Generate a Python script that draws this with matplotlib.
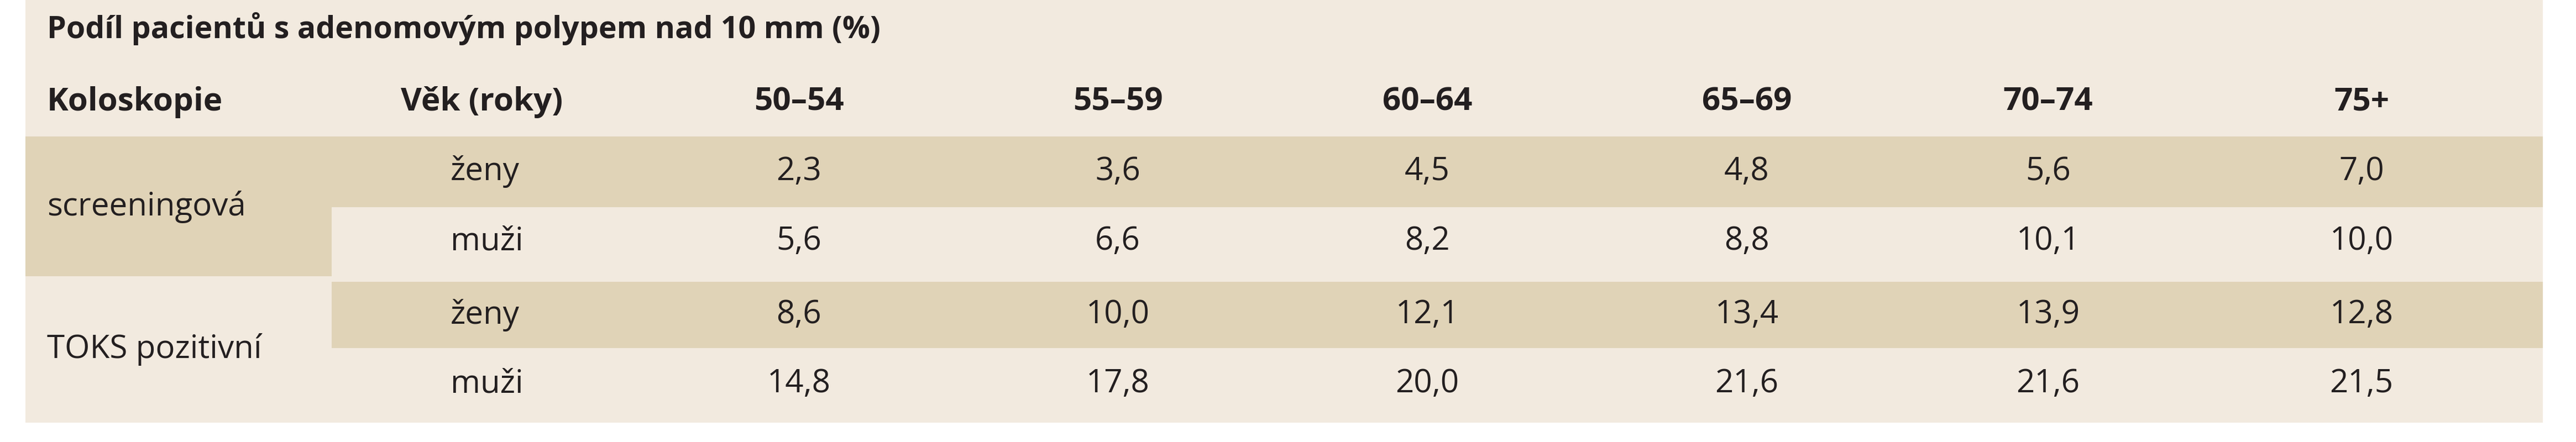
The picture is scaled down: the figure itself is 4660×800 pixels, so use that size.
import matplotlib
matplotlib.use("Agg")
import matplotlib.pyplot as plt
from matplotlib.patches import Rectangle

title = "Podíl pacientů s adenomovým polypem nad 10 mm (%)"
age_groups = ["50–54", "55–59", "60–64", "65–69", "70–74", "75+"]
groups = ["screeningová", "TOKS pozitivní"]
sexes = ["ženy", "muži"]
screen_zeny = [2.3, 3.6, 4.5, 4.8, 5.6, 7.0]
screen_muzi = [5.6, 6.6, 8.2, 8.8, 10.1, 10.0]
toks_zeny = [8.6, 10.0, 12.1, 13.4, 13.9, 12.8]
toks_muzi = [14.8, 17.8, 20.0, 21.6, 21.6, 21.5]
rows = [screen_zeny, screen_muzi, toks_zeny, toks_muzi]

FAM = ['Liberation Sans Narrow', 'Open Sans', 'DejaVu Sans']
LIGHT = '#f2eadf'
DARK = '#e0d3b7'
TXT = '#231f20'

fig = plt.figure(figsize=(46.6, 8), dpi=100)
ax = fig.add_axes([0, 0, 1, 1])
ax.set_xlim(0, 4660); ax.set_ylim(800, 0); ax.axis('off')

ax.add_patch(Rectangle((46, 0), 4554, 765, color=LIGHT, lw=0))
ax.add_patch(Rectangle((46, 247), 4554, 128, color=DARK, lw=0))
ax.add_patch(Rectangle((46, 247), 554, 253, color=DARK, lw=0))
ax.add_patch(Rectangle((600, 510), 4000, 120, color=DARK, lw=0))

ax.text(85, 52, title, fontsize=40, fontweight='bold', family=FAM, color=TXT, va='center')
ax.text(85, 185, "Koloskopie", fontsize=42, fontweight='bold', family=FAM, color=TXT, va='center')
ax.text(725, 185, "Věk (roky)", fontsize=42, fontweight='bold', family=FAM, color=TXT, va='center')
centers = [1445, 2022, 2582, 3160, 3705, 4272]
for c, a in zip(centers, age_groups):
    ax.text(c, 185, a, fontsize=42, fontweight='bold', family=FAM, color=TXT, va='center', ha='center')

row_y = [311, 437, 570, 695]
ax.text(85, (row_y[0] + row_y[1]) / 2, groups[0], fontsize=42, family=FAM, color=TXT, va='center')
ax.text(85, (row_y[2] + row_y[3]) / 2, groups[1], fontsize=42, family=FAM, color=TXT, va='center')
for i, (y, vals) in enumerate(zip(row_y, rows)):
    ax.text(815, y, sexes[i % 2], fontsize=42, family=FAM, color=TXT, va='center')
    for c, v in zip(centers, vals):
        ax.text(c, y, f"{v:.1f}".replace('.', ','), fontsize=42, family=FAM,
                color=TXT, va='center', ha='center')

fig.savefig("out.png", dpi=100, facecolor='white')
